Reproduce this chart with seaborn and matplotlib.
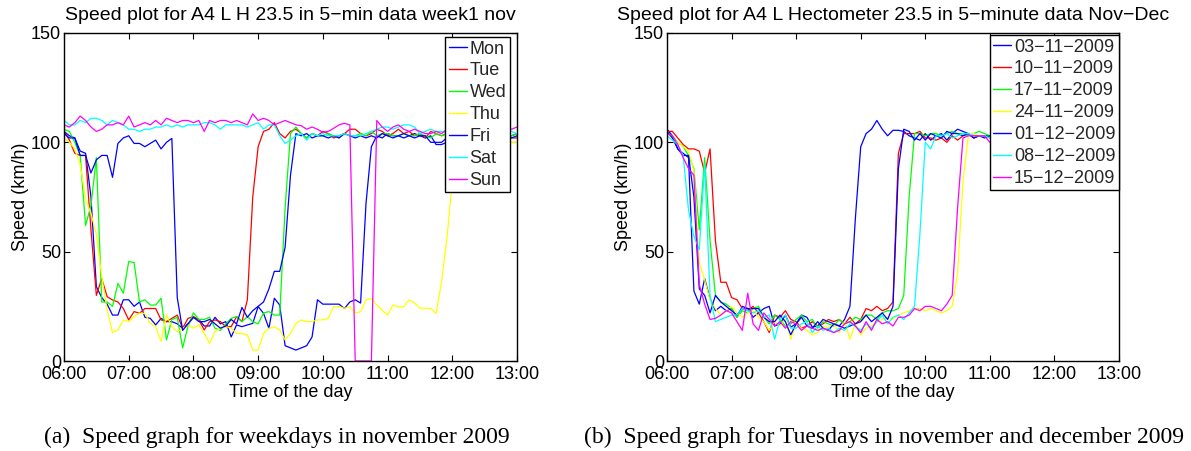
import numpy as np
import pandas as pd
import matplotlib
matplotlib.use("Agg")
import matplotlib.pyplot as plt
import matplotlib.dates as mdates
import seaborn as sns

# ---------------- data: left panel (weekdays, week 1 of November) ----------------
WEEKDAYS = ["Mon", "Tue", "Wed", "Thu", "Fri", "Sat", "Sun"]
COLORS_LEFT = ["#0000ff", "#ff0000", "#00ff00", "#ffff00", "#0000ff", "#00ffff", "#ff00ff"]

MON = [105, 103, 102, 96, 95, 75, 34, 29, 26, 21,
       21, 28, 28, 25, 27, 20, 19.5, 16.5, 19.5, 18,
       18, 17, 15, 17, 20, 19, 16, 16, 20, 17,
       18, 11, 16.5, 15.7, 16.5, 17.2, 24.9, 21.8, 14.9, 28.7,
       25.6, 7, 6, 5, 6, 7, 11, 28, 26, 26,
       26, 26, 24, 27, 28, 26.5, 72, 98, 103, 102,
       104, 103, 103, 102, 103, 104, 103, 102, 103, 99,
       99, 100, 103, 103, 102, 104, 103, 102, 103, 103,
       102, 103, 104, 103, 104]
TUE = [105, 101, 95, 94, 94, 60, 30, 37.7, 29.4, 27.9,
       27, 24, 18.8, 22.6, 21.8, 24, 24, 24, 18.8, 18,
       19.5, 21, 15, 19.5, 20.3, 18.8, 14.2, 18, 18.8, 18,
       15.7, 15.7, 20.3, 18, 28, 75, 98, 105, 106, 109,
       104, 102, 105, 106, 104, 102, 104, 103, 105, 104,
       102, 103, 104, 106, 106, 104, 103, 104, 106, 105,
       103, 104, 106, 104, 105, 103, 104, 102, 105, 104,
       103, 104, 104, 103, 105, 104, 103, 104, 102, 103,
       104, 103, 104, 102, 102]
WED = [106, 105, 100, 94, 62, 71, 93, 27, 27, 25,
       35.5, 31, 45.5, 45, 27, 28, 25.6, 25.6, 28.7, 9.6,
       19, 20, 6, 16, 22, 19, 19, 20, 15, 14,
       17, 19.5, 20.3, 18, 20.3, 18, 17, 22, 22.6, 21,
       21, 70, 104, 107, 104, 102, 104, 103, 103, 104,
       103, 102, 104, 103, 103, 104, 103, 105, 103, 104,
       104, 103, 103, 104, 103, 103, 104, 103, 102, 104,
       103, 104, 103, 104, 103, 102, 104, 103, 103, 104,
       103, 104, 103, 103, 104]
THU = [102, 100, 97, 90, 74, 67.5, 58, 38.6, 23.3, 13,
       14.2, 18.8, 18, 20.3, 21.8, 21.8, 17.2, 15.7, 9, 21,
       15.7, 13.4, 15, 16.5, 15, 16.5, 12.6, 8.1, 13.4, 15,
       15.7, 15, 12.6, 12.6, 11.9, 5, 5, 12.6, 15, 15.7,
       14.2, 9.6, 12.6, 17.2, 18.8, 18, 18, 18.8, 18.8, 19.5,
       24.9, 24.9, 24.1, 24.9, 22, 22.5, 28, 28.6, 25.6, 23.3,
       21, 25.6, 24.8, 24.8, 28, 26.5, 24.1, 24.1, 24.1, 21.8,
       36, 56, 82, 100, 104, 103, 104, 103, 102, 103,
       102, 103, 101, 100, 100]
FRI = [104, 102, 102, 94, 94, 86, 92, 94, 94, 84,
       99.5, 102, 103, 99.5, 99.5, 98, 99.5, 101, 97, 100,
       101.8, 29, 14, 17, 20, 18, 18, 19, 17, 15,
       16, 19, 17, 24.5, 20, 23, 25, 27, 33, 41,
       41, 52, 85, 104, 103, 104, 102, 103, 103, 102,
       103, 102, 104, 103, 102, 103, 102, 103, 102, 104,
       103, 102, 103, 104, 103, 102, 103, 103, 100, 100,
       100, 102, 103, 102, 103, 102, 103, 102, 103, 102,
       103, 102, 103, 102, 103]
SAT = [110, 108, 108, 110, 109, 111, 111, 110, 108, 110,
       109, 108, 106, 106, 105, 106, 106, 107, 107, 108,
       107, 108, 107, 108, 108, 108, 109, 109, 108, 106,
       108, 108, 108, 108, 107, 108, 109, 106, 108, 108,
       103, 99.5, 101, 103, 104, 101, 104, 103, 104, 103,
       103, 103, 104, 103, 103, 103, 104, 105, 106, 107,
       107, 106, 107, 108, 108, 107, 104, 105, 106, 105,
       105, 104, 105, 104, 106, 105, 104, 105, 105, 104,
       105, 104, 105, 105, 104]
SUN = [108, 107, 109, 112, 110, 107, 105, 106, 108, 108,
       109, 108, 112, 107, 108, 109, 108, 110, 108, 111,
       110, 109, 110, 110, 109, 110, 105, 110, 109, 110,
       110, 109, 110, 109, 108, 113, 110, 111, 110, 108,
       109, 110, 109, 108, 107.6, 106, 107, 106, 104.6, 105,
       106.4, 108, 108.7, 108, 0, 0, 0, 0, 110, 107,
       105, 107, 108, 106, 105, 106, 105, 104, 104, 105,
       104, 106, 105, 104, 105, 106, 105, 106, 107, 106,
       105, 106, 107, 106, 107]

# ---------------- data: right panel (Tuesdays, Nov-Dec) ----------------
DATES = ["03\u221211\u22122009", "10\u221211\u22122009", "17\u221211\u22122009",
         "24\u221211\u22122009", "01\u221212\u22122009", "08\u221212\u22122009",
         "15\u221212\u22122009"]
COLORS_RIGHT = ["#0000ff", "#ff0000", "#00ff00", "#ffff00", "#0000ff", "#00ffff", "#ff00ff"]

D0311 = [106, 103, 97, 95, 93, 32, 26, 37.7, 28.5, 23,
         25, 23, 24, 20, 25, 24, 20, 22, 24, 25,
         16, 17, 21, 15.5, 17, 21, 20, 15.5, 16, 19,
         18, 17, 16, 19, 25, 65, 98, 104, 106, 110,
         106, 103, 105.5, 105.5, 105, 103, 102, 101, 104, 101,
         103, 104, 101, 104, 106, 105, 104, 102, 103, 103,
         103]
D1011 = [105, 105, 102, 99, 97, 97, 96, 86, 97, 55,
         36, 36, 29, 28, 24, 23, 25, 22, 18, 13,
         21, 20, 23, 19, 18, 15, 16, 18, 16, 17,
         19, 18, 19, 17, 20, 17, 19, 24, 23, 25,
         23, 24, 27, 95, 104, 104, 104, 105, 102, 102,
         101, 102, 100, 103, 101, 103, 104, 102, 103, 103,
         102]
D1711 = [104, 103, 100, 98, 94, 88, 60, 93, 55, 30,
         27, 26, 24, 20, 23, 22, 24, 25, 20, 17,
         21, 19, 16, 17, 19, 21, 18, 19, 15, 18,
         17, 16, 19, 17, 18, 20, 19, 21, 21, 19,
         22, 23, 23, 24, 30, 75, 104, 104, 103, 104,
         104, 103, 104, 105, 104, 104, 103, 104, 105, 104,
         103]
D2411 = [104, 102, 100, 98, 96, 87, 45, 37, 28, 24,
         21, 23, 25, 22, 20, 22, 23, 20, 18, 14,
         18, 16, 19, 10, 17, 15, 14, 12, 13, 16,
         15, 17, 13, 18, 10, 17, 12, 15, 16, 18,
         19, 20, 19, 21, 22, 23, 24, 24, 23, 24,
         23, 22, 23, 25, 40, 82, 103, 104, 103, 103,
         102]
D0112 = [105, 102, 97, 94, 94, 75, 33, 30, 22, 30,
         27, 25, 23, 21, 24, 24, 24, 24, 20, 18,
         18, 21, 18, 12, 17, 20, 16, 15, 18, 15,
         14, 17, 16, 15, 16, 17, 18, 21, 18, 20,
         22, 19, 25, 88, 106, 105, 101, 104, 101, 104,
         103, 102, 105, 104, 104, 103, 104, 102, 103, 102,
         103]
D0812 = [103, 101, 99, 94, 69, 57, 51, 90, 30, 18,
         19, 20, 21, 21, 24, 23, 22, 23, 20, 21,
         10, 19, 21, 15, 15, 17, 18, 13, 16, 14,
         15, 13, 15, 14, 17, 16, 14, 17, 15, 18,
         21, 17, 20, 21, 19, 22, 25, 58, 100, 97,
         103, 103, 104, 102, 103, 104, 104, 103, 103, 103,
         102]
D1512 = [104, 103, 99, 93, 88, 85, 35, 26, 19, 19.5,
         21, 23, 22, 18, 14, 31, 17, 14, 22, 19,
         16, 18, 15, 18, 17, 14, 16, 15, 14, 15,
         14, 13, 14, 17, 18, 16, 13, 18, 14, 19,
         17, 18, 16, 20, 20, 21, 24, 23, 25, 25,
         24, 23, 26, 30, 70, 102, 103, 103, 103, 103,
         100]

TITLE_LEFT = "Speed plot for A4 L H 23.5 in 5\u2212min data week1 nov"
TITLE_RIGHT = "Speed plot for A4 L Hectometer 23.5 in 5\u2212minute data Nov\u2212Dec"
CAPTION_LEFT = "(a)  Speed graph for weekdays in november 2009"
CAPTION_RIGHT = "(b)  Speed graph for Tuesdays in november and december 2009"
XLABEL = "Time of the day"
YLABEL = "Speed (km/h)"
YTICKS = [0, 50, 100, 150]

# ---------------- style ----------------
sns.set_style("ticks")
plt.rcParams['font.family'] = ['Liberation Sans', 'DejaVu Sans']
plt.rcParams['axes.unicode_minus'] = True
FS = 13

W, H = 1191, 451
fig = plt.figure(figsize=(W / 100, H / 100), dpi=100)
fig.patch.set_facecolor("white")
ax1 = fig.add_axes([64 / W, 1 - 361 / H, 453 / W, 328 / H])
ax2 = fig.add_axes([667 / W, 1 - 361 / H, 452 / W, 328 / H])

day0 = pd.Timestamp("2009-11-02 06:00")
t_left = pd.date_range(day0, periods=len(MON), freq="5min")
t_right = pd.date_range(day0, periods=len(D0311), freq="5min")

for name, vals, col in zip(WEEKDAYS, [MON, TUE, WED, THU, FRI, SAT, SUN], COLORS_LEFT):
    sns.lineplot(x=t_left, y=vals, ax=ax1, color=col, label=name, linewidth=0.9)

for name, vals, col in zip(DATES, [D0311, D1011, D1711, D2411, D0112, D0812, D1512], COLORS_RIGHT):
    sns.lineplot(x=t_right, y=vals, ax=ax2, color=col, label=name, linewidth=0.9)

for ax, title in [(ax1, TITLE_LEFT), (ax2, TITLE_RIGHT)]:
    ax.set_xlim(day0, day0 + pd.Timedelta(hours=7))
    ax.set_ylim(0, 150)
    ax.set_yticks(YTICKS)
    ax.xaxis.set_major_locator(mdates.HourLocator())
    ax.xaxis.set_major_formatter(mdates.DateFormatter("%H:%M"))
    ax.tick_params(axis="both", direction="in", top=True, right=True, length=4.5,
                   width=0.8, color="black", labelsize=FS, labelcolor="black")
    ax.tick_params(axis="x", pad=3.5)
    ax.tick_params(axis="y", pad=2)
    for sp in ax.spines.values():
        sp.set_visible(True)
        sp.set_color("black")
        sp.set_linewidth(1.0)
    ax.set_title(title, fontsize=14, pad=9, color="black")
    ax.set_xlabel(XLABEL, fontsize=FS, labelpad=1, color="black")
    ax.set_ylabel(YLABEL, fontsize=FS, labelpad=1.5, color="black")
    ax.set_facecolor("white")
    ax.grid(False)

leg_kw = dict(fontsize=FS, frameon=True, fancybox=False, edgecolor="black", framealpha=1,
              handlelength=1.0, handletextpad=0.15, borderpad=0.2, labelspacing=0.27,
              borderaxespad=0.0, loc="upper right")
l1 = ax1.legend(bbox_to_anchor=((510 - 64) / 453, (361 - 37) / 328), **leg_kw)
l2 = ax2.legend(bbox_to_anchor=(1.0, (361 - 35) / 328), **leg_kw)
for lg in (l1, l2):
    lg.get_frame().set_linewidth(1.0)
    for ln in lg.get_lines():
        ln.set_linewidth(1.0)

fig.text(277 / W, 1 - 437 / H, CAPTION_LEFT, ha="center", va="center",
         fontsize=17, family=["Liberation Serif", "DejaVu Serif"], color="black")
fig.text(884 / W, 1 - 437 / H, CAPTION_RIGHT, ha="center", va="center",
         fontsize=17, family=["Liberation Serif", "DejaVu Serif"], color="black")

fig.savefig("out.png", dpi=100, facecolor="white")
